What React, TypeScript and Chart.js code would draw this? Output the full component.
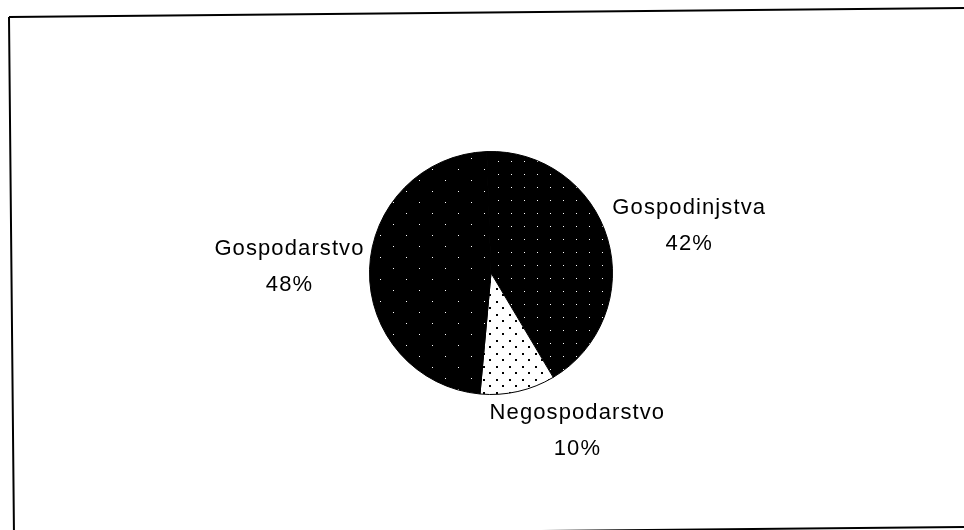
import React, { useEffect, useRef } from "react";
import { Chart, registerables } from "chart.js";

Chart.register(...registerables);

const categories = ["Gospodinjstva", "Negospodarstvo", "Gospodarstvo"];
const shares = [42, 10, 48];

function makePattern(
  bg: string,
  fg: string,
  w: number,
  h: number,
  dots: [number, number][],
  size: number
) {
  const c = document.createElement("canvas");
  c.width = w;
  c.height = h;
  const g = c.getContext("2d")!;
  g.fillStyle = bg;
  g.fillRect(0, 0, w, h);
  g.fillStyle = fg;
  dots.forEach(([x, y]) => g.fillRect(x, y, size, size));
  return g.createPattern(c, "repeat")!;
}

const clamp = (v: number) => Math.max(0, Math.min(1, v));

const framePlugin = {
  id: "scanFrame",
  beforeDraw(chart: any) {
    const ctx = chart.ctx as CanvasRenderingContext2D;
    const W = chart.width;
    const H = chart.height;
    ctx.save();
    ctx.fillStyle = "#ffffff";
    ctx.fillRect(0, 0, W, H);
    ctx.strokeStyle = "#000000";
    ctx.lineWidth = 2;
    ctx.beginPath();
    ctx.moveTo(9, 17);
    ctx.lineTo(W, 8);
    ctx.moveTo(9, 17);
    ctx.lineTo(14, H + 6);
    ctx.moveTo(14, H + 6);
    ctx.lineTo(W, H - 3);
    ctx.stroke();
    ctx.restore();
  },
};

const labelPlugin = {
  id: "outsideLabels",
  afterDatasetsDraw(chart: any) {
    const ctx = chart.ctx as CanvasRenderingContext2D;
    const meta = chart.getDatasetMeta(0);
    ctx.save();
    ctx.font = '22px "Liberation Sans", Arial, sans-serif';
    (ctx as any).letterSpacing = "1.1px";
    ctx.fillStyle = "#000000";
    ctx.textAlign = "center";
    ctx.textBaseline = "middle";
    const lh = 36;
    meta.data.forEach((arc: any, i: number) => {
      const { x, y, startAngle, endAngle, outerRadius } = arc.getProps(
        ["x", "y", "startAngle", "endAngle", "outerRadius"],
        true
      );
      const mid = (startAngle + endAngle) / 2;
      const dx = Math.cos(mid);
      const dy = Math.sin(mid);
      const ax = x + (outerRadius + 5) * dx;
      const ay = y + (outerRadius + 6) * dy;
      const lines = [categories[i], shares[i] + "%"];
      const w = Math.max(...lines.map((l) => ctx.measureText(l).width));
      const h = lh * lines.length;
      const left = ax - w * clamp(0.5 - 1.5 * dx);
      const top = ay - h * clamp(0.5 - 0.5 * dy) - 1;
      lines.forEach((l, k) => ctx.fillText(l, left + w / 2, top + lh * (k + 0.5)));
    });
    ctx.restore();
  },
};

export default function App() {
  const ref = useRef<HTMLCanvasElement | null>(null);

  useEffect(() => {
    const canvas = ref.current!;
    const darkSparse = makePattern("#000000", "#ffffff", 26, 22, [[3, 4], [16, 15]], 1);
    const darkDense = makePattern("#000000", "#ffffff", 13, 13, [[4, 5]], 1);
    const lightDots = makePattern("#ffffff", "#000000", 13, 13, [[2, 2], [8, 8]], 2);

    const chart = new Chart(canvas, {
      type: "pie",
      data: {
        labels: categories,
        datasets: [
          {
            data: shares,
            backgroundColor: [darkDense, lightDots, darkSparse],
            borderColor: "#000000",
            borderWidth: 1,
          },
        ],
      },
      options: {
        responsive: false,
        animation: false,
        rotation: -2,
        layout: { padding: { top: 151, bottom: 135, left: 199, right: 181 } },
        plugins: {
          legend: { display: false },
          tooltip: { enabled: false },
        },
      },
      plugins: [framePlugin, labelPlugin],
    });
    return () => chart.destroy();
  }, []);

  return (
    <div style={{ position: "fixed", left: 0, top: 0, width: 964, height: 530, background: "#fff" }}>
      <canvas ref={ref} width={964} height={530} style={{ display: "block" }} />
    </div>
  );
}
